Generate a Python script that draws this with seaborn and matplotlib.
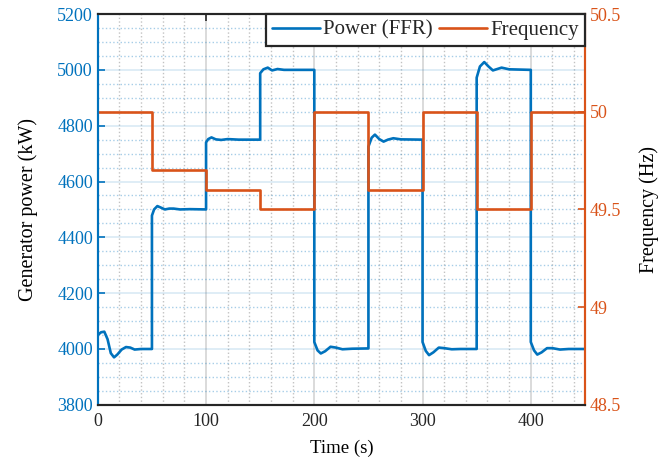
import seaborn as sns
import matplotlib.pyplot as plt
from matplotlib.ticker import MultipleLocator

# generator power (kW); repeated times are the step edges
power_t = [0, 3, 6, 9, 12, 15, 18, 22, 26, 30, 34, 40, 50,
           50, 52, 55, 58, 62, 66, 70, 76, 85, 100,
           100, 102, 105, 109, 114, 120, 130, 150,
           150, 153, 157, 161, 166, 172, 185, 200,
           200, 203, 206, 210, 215, 220, 226, 235, 250,
           250, 253, 256, 260, 264, 268, 273, 280, 300,
           300, 303, 306, 310, 315, 320, 327, 335, 350,
           350, 353, 357, 361, 365, 369, 373, 380, 390, 400,
           400, 403, 406, 410, 415, 420, 427, 435, 450]
power_kw = [4050, 4060, 4062, 4035, 3985, 3970, 3980, 3998, 4007, 4005, 3998, 4000, 4000,
            4478, 4500, 4512, 4507, 4500, 4503, 4503, 4500, 4501, 4500,
            4740, 4752, 4758, 4751, 4749, 4752, 4750, 4750,
            4988, 5002, 5008, 4998, 5003, 5000, 5000, 5000,
            4025, 3995, 3984, 3992, 4008, 4005, 3999, 4001, 4002,
            4725, 4757, 4768, 4752, 4743, 4750, 4755, 4751, 4750,
            4025, 3993, 3978, 3988, 4005, 4003, 3999, 4000, 4000,
            4972, 5012, 5028, 5012, 4998, 5003, 5008, 5002, 5001, 5000,
            4025, 3995, 3980, 3988, 4003, 4003, 3998, 4000, 4000]

# frequency set points (Hz), held until the next time
freq_t = [0, 50, 100, 150, 200, 250, 300, 350, 400, 450]
freq_hz = [50, 49.7, 49.6, 49.5, 50, 49.6, 50, 49.5, 50, 50]

blue = '#0072BD'
orange = '#D95319'
dark = '#262626'

sns.set_style('white')
plt.rcParams['font.family'] = ['Liberation Serif', 'DejaVu Serif']

fig, ax = plt.subplots(figsize=(6.7, 4.68), dpi=100)
fig.subplots_adjust(left=0.146, right=0.873, bottom=0.135, top=0.970)

sns.lineplot(x=power_t, y=power_kw, ax=ax, color=blue, lw=1.9,
             estimator=None, sort=False, label='Power (FFR)', legend=False)
ax2 = ax.twinx()
sns.lineplot(x=freq_t, y=freq_hz, ax=ax2, color=orange, lw=1.9, drawstyle='steps-post',
             estimator=None, sort=False, label='Frequency', legend=False)

ax.set_xlim(0, 450)
ax.set_ylim(3800, 5200)
ax2.set_ylim(48.5, 50.5)
ax.set_xticks([0, 100, 200, 300, 400])
ax.set_yticks(range(3800, 5201, 200))
ax2.set_yticks([48.5, 49, 49.5, 50, 50.5])
ax2.set_yticklabels(['48.5', '49', '49.5', '50', '50.5'])
ax.xaxis.set_minor_locator(MultipleLocator(20))
ax.yaxis.set_minor_locator(MultipleLocator(50))

# matlab-like grid
ax.set_axisbelow(True)
ax.grid(which='major', axis='y', color=blue, alpha=0.15, lw=1.2, ls='-')
ax.grid(which='minor', axis='y', color=blue, alpha=0.35, lw=1.0, ls=':')
ax.grid(which='major', axis='x', color='#d4d4d4', lw=1.2, ls='-')
ax.grid(which='minor', axis='x', color='#9a9a9a', alpha=0.6, lw=1.0, ls=':')

ax.tick_params(which='minor', length=0)
ax.tick_params(axis='x', direction='in', top=True, length=5, width=1.2,
               colors=dark, labelsize=13, pad=6)
ax.tick_params(axis='y', direction='in', length=5, width=1.2, colors=blue, labelsize=13)
ax2.tick_params(axis='y', direction='in', length=5, width=1.2, colors=orange, labelsize=13)

for a in (ax, ax2):
    a.spines['left'].set_color(blue)
    a.spines['right'].set_color(orange)
    a.spines['top'].set_color(dark)
    a.spines['bottom'].set_color(dark)
    for s in a.spines.values():
        s.set_linewidth(1.5)

ax.set_xlabel('Time (s)', fontsize=13.5, color='black', labelpad=7)
ax.set_ylabel('Generator power (kW)', fontsize=14.5, color='black', labelpad=14)
ax2.set_ylabel('Frequency (Hz)', fontsize=14.5, color='black', labelpad=13)

handles = [ax.get_lines()[0], ax2.get_lines()[0]]
leg = ax2.legend(handles, ['Power (FFR)', 'Frequency'], loc='upper right', ncol=2,
                 frameon=True, fancybox=False, edgecolor=dark, framealpha=1,
                 borderaxespad=0, handlelength=2.3, columnspacing=0.3,
                 handletextpad=0.15, borderpad=0.3, fontsize=15)
leg.get_frame().set_linewidth(1.6)

fig.savefig('out.png', dpi=100)
